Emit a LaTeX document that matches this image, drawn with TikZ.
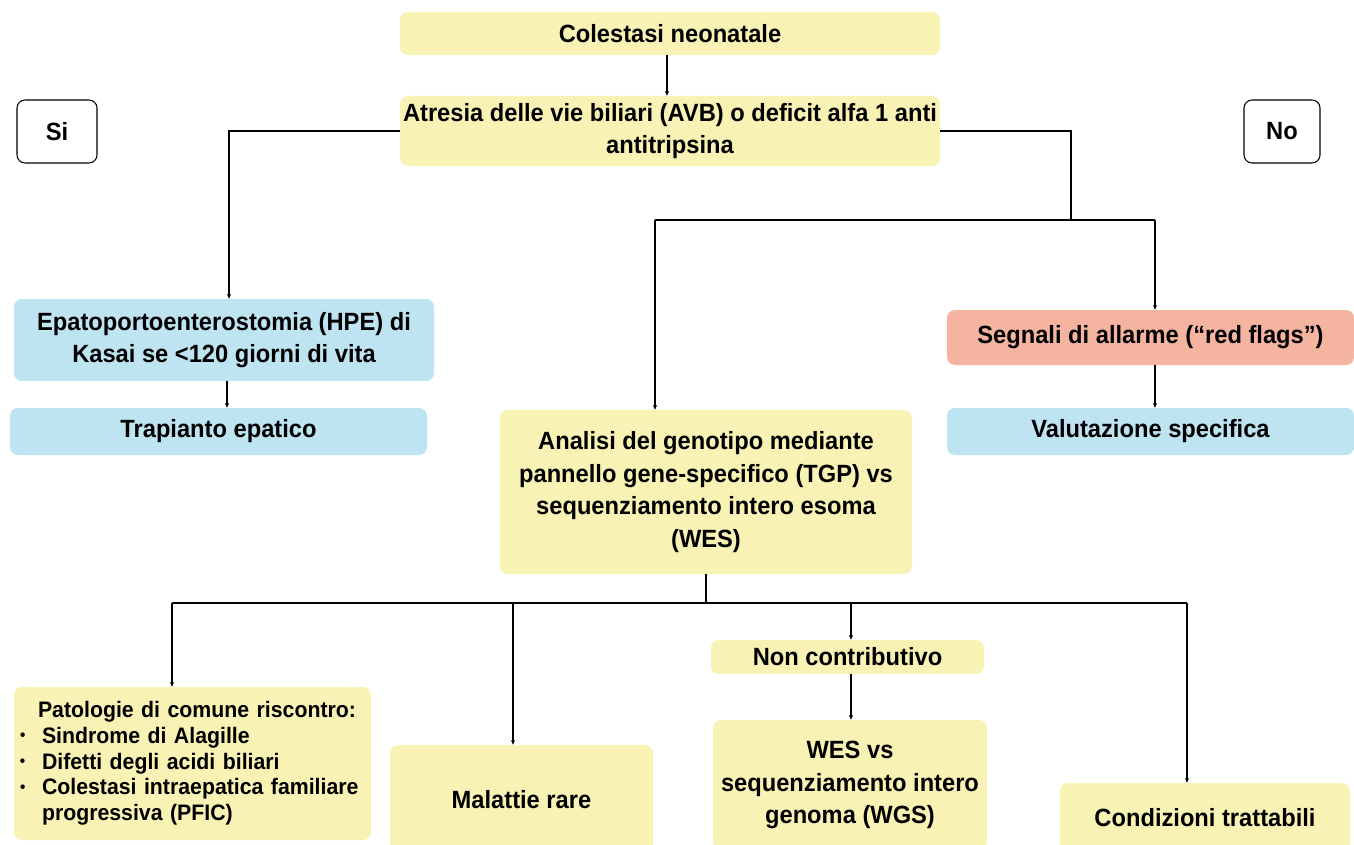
\documentclass[tikz,border=0pt]{standalone}
\usepackage{fontspec}
\setmainfont{Liberation Sans}[FakeStretch=0.95]
\usetikzlibrary{arrows.meta}
\definecolor{byel}{HTML}{F8F3B4}
\definecolor{bblue}{HTML}{BEE3F1}
\definecolor{bsal}{HTML}{F4B4A0}
\def\px{0.75pt}
\newcommand{\blt}{\makebox[16.5pt][l]{\fontsize{12}{12}\selectfont\raisebox{2pt}{•}}}
\tikzset{
  box/.style={rounded corners=6pt, inner sep=2pt, align=center, font=\fontsize{18.7}{24.5}\selectfont\bfseries},
  ybox/.style={box, fill=byel},
  bbox/.style={box, fill=bblue},
  rbox/.style={box, fill=bsal},
  wbox/.style={box, draw=black, line width=0.8pt, fill=white},
  conn/.style={line width=1pt, black},
  arr/.style={conn, -{Stealth[length=3.5pt,width=3pt]}},
}
\begin{document}
\begin{tikzpicture}[x=0.75pt,y=-0.75pt]
\useasboundingbox[fill=white] (0,0) rectangle (1354,845);
% nodes
\node[ybox, minimum width=540*\px, minimum height=43*\px] (col) at (670,33.5) {Colestasi neonatale};
\node[ybox, minimum width=540*\px, minimum height=70*\px] (atr) at (670,131) {Atresia delle vie biliari (AVB) o deficit alfa 1 anti\\antitripsina};
\node[wbox, minimum width=80*\px, minimum height=63*\px] (si) at (57,131.5) {Si};
\node[wbox, minimum width=76*\px, minimum height=63*\px] (no) at (1282,131.5) {No};
\node[bbox, minimum width=420*\px, minimum height=82*\px] (hpe) at (224,340) {Epatoportoenterostomia (HPE) di\\Kasai se <120 giorni di vita};
\node[bbox, minimum width=417*\px, minimum height=47*\px] (tra) at (218.5,431.5) {Trapianto epatico};
\node[rbox, minimum width=407*\px, minimum height=55*\px] (rf) at (1150.5,337.5) {Segnali di allarme (“red flags”)};
\node[bbox, minimum width=407*\px, minimum height=47*\px] (val) at (1150.5,431.5) {Valutazione specifica};
\node[ybox, minimum width=412*\px, minimum height=164*\px] (ana) at (706,492) {Analisi del genotipo mediante\\pannello gene-specifico (TGP) vs\\sequenziamento intero esoma\\(WES)};
\node[ybox, minimum width=357*\px, minimum height=153*\px, inner xsep=0pt, text width=357*\px, align=left, font=\fontsize{16.8}{19.3}\selectfont\bfseries] (pat) at (192.5,763.5) {\hspace*{18pt}Patologie di comune riscontro:\\
\hspace*{4.5pt}\blt Sindrome di Alagille\\
\hspace*{4.5pt}\blt Difetti degli acidi biliari\\
\hspace*{4.5pt}\blt Colestasi intraepatica familiare\\
\hspace*{21pt}progressiva (PFIC)};
\node[ybox, minimum width=263*\px, minimum height=110*\px] (mal) at (521.5,800) {Malattie rare};
\node[ybox, minimum width=273*\px, minimum height=34*\px] (nc) at (847.5,657) {Non contributivo};
\node[ybox, minimum width=274*\px, minimum height=130*\px] (wgs) at (850,785) {WES vs\\sequenziamento intero\\genoma (WGS)};
\node[ybox, minimum width=290*\px, minimum height=70*\px] (cond) at (1205,818) {Condizioni trattabili};
% connectors
\draw[arr] (col.south -| 667,0) -- (atr.north -| 667,0);
\draw[arr] (atr.west) -| ([xshift=5*\px]hpe.north);
\draw[arr] (hpe.south -| 227,0) -- (tra.north -| 227,0);
\coordinate (jno) at (1071,220);
\coordinate (jl) at (655,220);
\coordinate (jr) at (1155,220);
\draw[conn] (atr.east) -| (jno);
\draw[conn] (jl) -- (jr);
\draw[arr] (jl) -- (jl |- ana.north);
\draw[arr] (jr) -- (jr |- rf.north);
\draw[arr] (rf.south -| 1155,0) -- (val.north -| 1155,0);
\coordinate (jb) at (706,603);
\coordinate (b1) at (172,603);
\coordinate (b2) at (513,603);
\coordinate (b3) at (851,603);
\coordinate (b4) at (1187,603);
\draw[conn] (ana.south) -- (jb);
\draw[conn] (b1) -- (b4);
\draw[arr] (b1) -- (b1 |- pat.north);
\draw[arr] (b2) -- (b2 |- mal.north);
\draw[arr] (b3) -- (b3 |- nc.north);
\draw[arr] (b4) -- (b4 |- cond.north);
\draw[arr] (nc.south -| 851,0) -- (wgs.north -| 851,0);
\end{tikzpicture}
\end{document}
